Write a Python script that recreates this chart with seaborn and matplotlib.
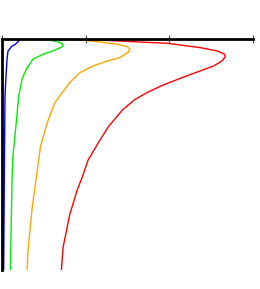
import pandas as pd
import seaborn as sns
import matplotlib.pyplot as plt

# values (x = speed, y = depth, depth grows downward)
red_x = [0, 1.17, 1.98, 2.37, 2.57, 2.66, 2.67, 2.63, 2.53, 2.335, 2.13, 1.93, 1.75, 1.59,
         1.44, 1.27, 1.15, 1.03, 0.96, 0.90, 0.81, 0.73, 0.71]
red_y = [0, 0.015, 0.047, 0.089, 0.121, 0.153, 0.177, 0.218, 0.267, 0.325, 0.388, 0.451,
         0.519, 0.592, 0.694, 0.859, 1.015, 1.18, 1.345, 1.47, 1.71, 2.03, 2.25]

orange_x = [0, 0.97, 1.17, 1.38, 1.50, 1.53, 1.51, 1.41, 1.26, 1.09, 0.93, 0.81, 0.72,
            0.63, 0.54, 0.46, 0.41, 0.36, 0.31, 0.30]
orange_y = [0, 0.015, 0.034, 0.056, 0.080, 0.105, 0.131, 0.186, 0.218, 0.267, 0.332, 0.429,
            0.526, 0.626, 0.82, 1.05, 1.35, 1.65, 2.07, 2.25]

green_x = [0, 0.575, 0.67, 0.73, 0.72, 0.635, 0.49, 0.37, 0.30, 0.24, 0.20, 0.17, 0.13,
           0.12, 0.11, 0.10]
green_y = [0, 0.015, 0.034, 0.056, 0.080, 0.112, 0.153, 0.202, 0.283, 0.393, 0.558, 0.82,
           1.15, 1.37, 1.81, 2.25]

blue_x = [0, 0.18, 0.20, 0.16, 0.12, 0.072, 0.06, 0.048, 0.036, 0.03, 0.02]
blue_y = [0, 0.008, 0.024, 0.056, 0.073, 0.121, 0.199, 0.364, 0.558, 1.08, 2.25]

frames = []
for name, xs, ys in [("blue", blue_x, blue_y), ("green", green_x, green_y),
                     ("orange", orange_x, orange_y), ("red", red_x, red_y)]:
    frames.append(pd.DataFrame({"x": xs, "y": ys, "curve": name}))
df = pd.concat(frames, ignore_index=True)

palette = {"blue": "#0000ff", "green": "#00ee00", "orange": "#ffa500", "red": "#ff0000"}

sns.set_style("white")
fig = plt.figure(figsize=(2.6, 2.89), dpi=100)
ax = fig.add_axes([2 / 260, 1 - 270 / 289, 251 / 260, (270 - 38.5) / 289])

sns.lineplot(data=df, x="x", y="y", hue="curve", units="curve", estimator=None,
             sort=False, palette=palette, linewidth=1.0, legend=False, ax=ax,
             solid_joinstyle="round")

ax.set_xlim(0, 3)
ax.set_ylim(2.25, 0)
ax.set_xticks([0, 1, 2, 3])
ax.set_yticks([0, 1, 2])
ax.xaxis.tick_top()
ax.tick_params(axis="both", direction="inout", length=6, width=0.8, color="#444444",
               labeltop=False, labelleft=False, labelbottom=False)
ax.set_xlabel("")
ax.set_ylabel("")
for side in ["bottom", "right"]:
    ax.spines[side].set_visible(False)
for side in ["top", "left"]:
    ax.spines[side].set_color("black")
    ax.spines[side].set_linewidth(2)

fig.savefig("out.png", dpi=100)
